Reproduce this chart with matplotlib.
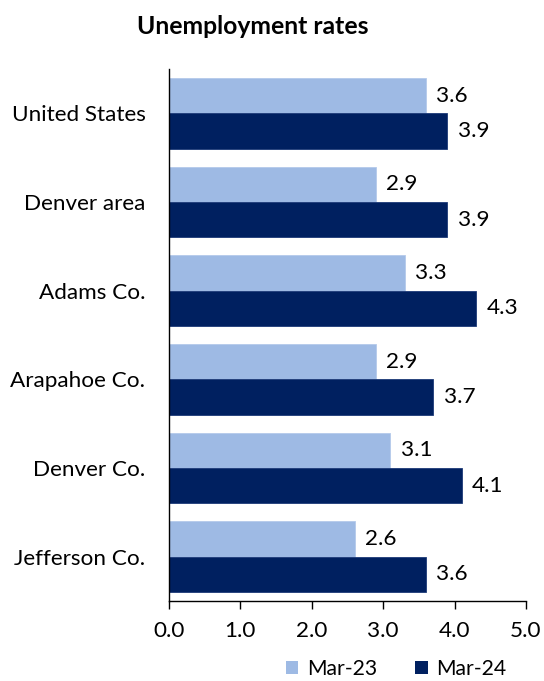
import matplotlib
matplotlib.use("Agg")
import matplotlib.pyplot as plt
import numpy as np
from matplotlib.patches import Patch

categories = ["United States", "Denver area", "Adams Co.", "Arapahoe Co.", "Denver Co.", "Jefferson Co."]
mar23 = [3.6, 2.9, 3.3, 2.9, 3.1, 2.6]
mar24 = [3.9, 3.9, 4.3, 3.7, 4.1, 3.6]
series_names = ["Mar-23", "Mar-24"]
xticks = [0.0, 1.0, 2.0, 3.0, 4.0, 5.0]

plt.rcParams['font.family'] = ['Lato', 'DejaVu Sans']

c_light = "#9EBAE4"
c_dark = "#002060"
fs = 16.2

fig = plt.figure(figsize=(5.44, 6.81), dpi=100)
ax = fig.add_axes([169/544, 1-601/681, 357/544, 532/681])

y = np.arange(len(categories))
h = 0.4
b1 = ax.barh(y - h/2, mar23, height=h, color=c_light, edgecolor="#B4CAEA", linewidth=0.6)
b2 = ax.barh(y + h/2, mar24, height=h, color=c_dark, edgecolor="#1C3A78", linewidth=0.6)

ax.bar_label(b1, labels=[f"{v:.1f}" for v in mar23], padding=7.5, fontsize=fs)
ax.bar_label(b2, labels=[f"{v:.1f}" for v in mar24], padding=7.5, fontsize=fs)

ax.set_ylim(len(categories) - 0.5, -0.5)
ax.set_xlim(0, 5.0)
ax.set_yticks(y)
ax.set_yticklabels(categories, fontsize=fs)
ax.tick_params(axis='y', length=0, pad=17)
ax.set_xticks(xticks)
ax.set_xticklabels([f"{t:.1f}" for t in xticks], fontsize=fs)
ax.tick_params(axis='x', direction='out', length=5.5, width=1, pad=9)

for s in ['top', 'right']:
    ax.spines[s].set_visible(False)
for s in ['left', 'bottom']:
    ax.spines[s].set_linewidth(1)
    ax.spines[s].set_color('black')

fig.text(253/544, 1-27/681, "Unemployment rates", ha='center', va='center',
         fontsize=17.8, fontweight='bold')

handles = [Patch(facecolor=c_light, edgecolor='none'), Patch(facecolor=c_dark, edgecolor='none')]
fig.legend(handles, series_names, loc='center', bbox_to_anchor=(396/544, 1-669/681),
           ncol=2, frameon=False, fontsize=15.2, handlelength=0.6, handleheight=0.6,
           handletextpad=0.4, columnspacing=1.8, borderpad=0.2)

fig.savefig("out.png", dpi=100)
